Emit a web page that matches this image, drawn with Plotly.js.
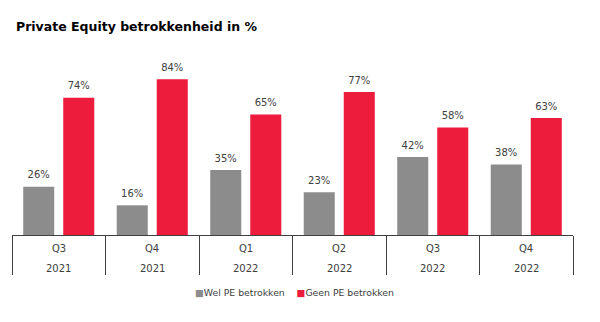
<!DOCTYPE html>
<html>
<head>
<meta charset="utf-8">
<script src="https://cdn.plot.ly/plotly-3.0.1.min.js"></script>
<style>html,body{margin:0;padding:0;background:#fff}#chart{width:600px;height:322px}</style>
</head>
<body>
<div id="chart"></div>
<script>
var quarters = ["Q3", "Q4", "Q1", "Q2", "Q3", "Q4"];
var years = ["2021", "2021", "2022", "2022", "2022", "2022"];
var welPE = [26, 16, 35, 23, 42, 38];
var geenPE = [74, 84, 65, 77, 58, 63];
var seriesNames = ["Wel PE betrokken", "Geen PE betrokken"];
var seriesColors = ["#8c8c8c", "#ed1b3c"];

var cats = quarters.map(function (q, i) { return q + " " + years[i]; });
var labelFont = {family: "DejaVu Sans, Verdana, sans-serif", size: 10, color: "#404040"};

function bars(vals, name, color) {
  return {
    type: "bar", x: cats, y: vals, name: name,
    marker: {color: color},
    hoverinfo: "none", showlegend: false
  };
}
function labels(vals, name) {
  return {
    type: "scatter", mode: "markers+text", x: cats, y: vals, name: name + " labels",
    marker: {size: 8, opacity: 0},
    text: vals.map(function (v) { return v + "%"; }),
    textposition: "top center", textfont: labelFont, cliponaxis: false,
    hoverinfo: "none", showlegend: false
  };
}

var data = [
  bars(welPE, seriesNames[0], seriesColors[0]), bars(geenPE, seriesNames[1], seriesColors[1]),
  labels(welPE, seriesNames[0]), labels(geenPE, seriesNames[1])
];

var annotations = [];
cats.forEach(function (c, i) {
  annotations.push({x: c, xref: "x", y: -0.078, yref: "paper", text: quarters[i], showarrow: false, yanchor: "middle", font: labelFont});
  annotations.push({x: c, xref: "x", y: -0.198, yref: "paper", text: years[i], showarrow: false, yanchor: "middle", font: labelFont});
});

var legendText = seriesNames.map(function (n, i) {
  return "<span style='color:" + seriesColors[i] + "'>■</span>" + n;
}).join("&nbsp;&nbsp;&nbsp;&nbsp;");
annotations.push({x: 0.503, xref: "paper", y: -0.347, yref: "paper", text: legendText, showarrow: false,
                  xanchor: "center", yanchor: "middle",
                  font: {family: "DejaVu Sans, Verdana, sans-serif", size: 9.3, color: "#404040"}});

var layout = {
  width: 600, height: 322,
  margin: {l: 12, r: 27, t: 68, b: 87},
  paper_bgcolor: "#fff", plot_bgcolor: "#fff",
  title: {text: "<b>Private Equity betrokkenheid in %</b>", x: 16 / 600, xanchor: "left", y: 1 - 27 / 322, yanchor: "middle",
          font: {family: "DejaVu Sans, Verdana, sans-serif", size: 12.5, color: "#000"}},
  barmode: "group", bargap: 0.144, bargroupgap: 0.225,
  scattermode: "group", scattergap: 0.144,
  showlegend: false,
  xaxis: {type: "category", showline: true, linecolor: "#404040", linewidth: 1,
          ticks: "outside", tickson: "boundaries", ticklen: 39, tickcolor: "#404040", tickwidth: 1,
          showticklabels: false, showgrid: false, zeroline: false, fixedrange: true},
  yaxis: {range: [0, 90], visible: false, showgrid: false, zeroline: false, fixedrange: true},
  annotations: annotations
};

Plotly.newPlot("chart", data, layout, {staticPlot: true, displayModeBar: false});
</script>
</body>
</html>
